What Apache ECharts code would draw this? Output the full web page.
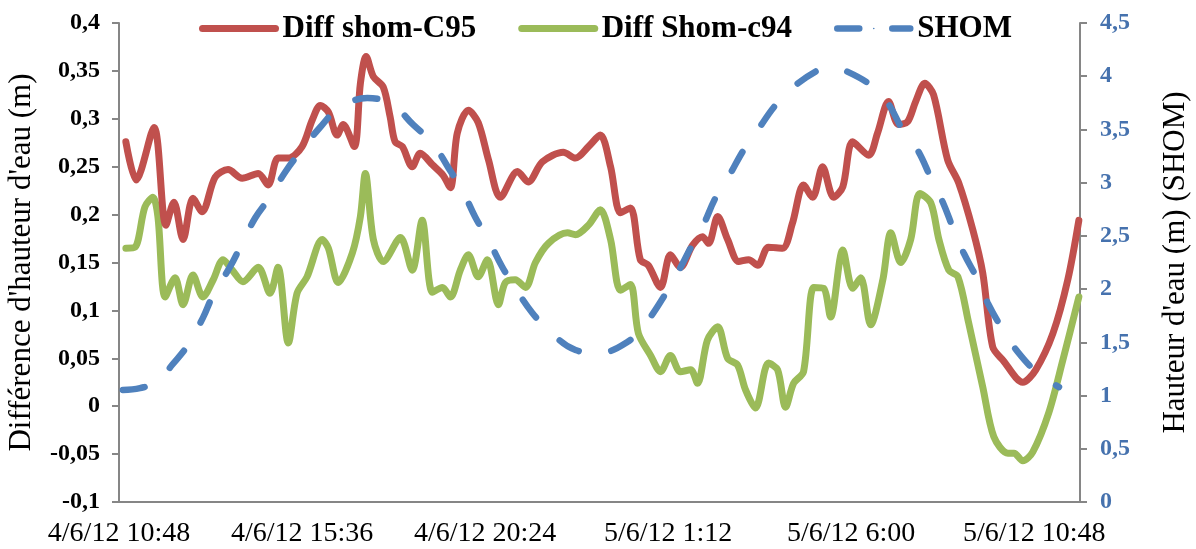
<!DOCTYPE html>
<html>
<head>
<meta charset="utf-8">
<script src="https://cdn.jsdelivr.net/npm/echarts@6/dist/echarts.min.js"></script>
<style>
  html, body { margin: 0; padding: 0; background: #fff; }
  #chart { width: 1196px; height: 549px; }
</style>
</head>
<body>
<div id="chart"></div>
<script>
// heures depuis 4/6/12 00:00
const redTime = [10.98, 11.25, 11.72, 12.03, 12.24, 12.48, 12.74, 12.98, 13.32, 13.66, 14.03, 14.45, 14.71, 14.97, 15.24, 15.60, 15.87, 16.08, 16.29, 16.52, 16.68, 16.97, 17.13, 17.28, 17.47, 17.73, 17.91, 18.04, 18.23, 18.49, 18.70, 19.02, 19.30, 19.49, 19.67, 19.96, 20.22, 20.49, 20.80, 21.25, 21.53, 21.90, 22.45, 22.77, 23.11, 23.42, 23.69, 23.95, 24.21, 24.47, 24.68, 25.00, 25.26, 25.52, 25.84, 26.10, 26.26, 26.50, 26.76, 27.05, 27.31, 27.55, 27.83, 28.20, 28.46, 28.75, 28.99, 29.25, 29.54, 29.78, 30.04, 30.46, 30.69, 30.98, 31.24, 31.48, 31.69, 31.93, 32.16, 32.53, 32.82, 33.19, 33.45, 33.71, 33.98, 34.50, 34.84, 35.29, 35.68, 35.97];
const diffC95 = [0.276, 0.236, 0.291, 0.189, 0.213, 0.174, 0.217, 0.203, 0.239, 0.247, 0.238, 0.243, 0.231, 0.259, 0.259, 0.271, 0.299, 0.314, 0.307, 0.283, 0.294, 0.271, 0.337, 0.365, 0.344, 0.333, 0.302, 0.276, 0.271, 0.250, 0.264, 0.252, 0.241, 0.228, 0.285, 0.309, 0.296, 0.257, 0.218, 0.245, 0.234, 0.255, 0.265, 0.259, 0.271, 0.283, 0.250, 0.202, 0.207, 0.153, 0.147, 0.124, 0.158, 0.145, 0.168, 0.177, 0.170, 0.198, 0.174, 0.151, 0.153, 0.147, 0.166, 0.165, 0.191, 0.231, 0.218, 0.250, 0.218, 0.229, 0.276, 0.262, 0.285, 0.318, 0.294, 0.297, 0.318, 0.337, 0.325, 0.257, 0.233, 0.184, 0.139, 0.062, 0.048, 0.025, 0.038, 0.076, 0.132, 0.194];

const greenTime = [10.98, 11.22, 11.48, 11.69, 11.82, 12.01, 12.27, 12.48, 12.74, 13.00, 13.27, 13.53, 13.77, 14.05, 14.45, 14.76, 14.97, 15.24, 15.47, 15.73, 16.13, 16.29, 16.55, 16.92, 17.13, 17.26, 17.47, 17.73, 18.18, 18.49, 18.75, 19.02, 19.28, 19.49, 19.75, 19.96, 20.22, 20.46, 20.75, 20.93, 21.19, 21.46, 21.72, 22.06, 22.56, 22.77, 23.11, 23.42, 23.69, 23.95, 24.21, 24.42, 24.74, 25.00, 25.26, 25.52, 25.79, 25.97, 26.23, 26.50, 26.76, 27.02, 27.23, 27.49, 27.83, 28.07, 28.28, 28.49, 28.75, 29.02, 29.28, 29.46, 29.78, 30.04, 30.25, 30.51, 30.83, 31.04, 31.30, 31.56, 31.80, 32.09, 32.30, 32.56, 32.80, 33.08, 33.45, 33.74, 34.11, 34.27, 34.50, 34.76, 35.18, 35.55, 35.97];
const diffC94 = [0.165, 0.166, 0.208, 0.218, 0.198, 0.114, 0.134, 0.106, 0.137, 0.114, 0.132, 0.153, 0.142, 0.130, 0.145, 0.118, 0.145, 0.066, 0.118, 0.135, 0.174, 0.165, 0.129, 0.160, 0.198, 0.243, 0.174, 0.151, 0.176, 0.142, 0.194, 0.119, 0.124, 0.114, 0.142, 0.158, 0.135, 0.153, 0.106, 0.129, 0.132, 0.124, 0.150, 0.170, 0.181, 0.179, 0.189, 0.205, 0.174, 0.121, 0.127, 0.076, 0.053, 0.036, 0.053, 0.036, 0.038, 0.024, 0.069, 0.083, 0.050, 0.043, 0.017, -0.002, 0.045, 0.038, -0.001, 0.024, 0.036, 0.124, 0.123, 0.093, 0.163, 0.123, 0.134, 0.085, 0.132, 0.181, 0.150, 0.174, 0.222, 0.212, 0.174, 0.142, 0.135, 0.087, 0.020, -0.032, -0.049, -0.049, -0.057, -0.048, -0.007, 0.048, 0.114];

const shomTime = [10.90, 11.35, 11.82, 12.19, 12.61, 13.00, 13.27, 13.71, 13.98, 14.37, 14.76, 15.16, 15.55, 16.08, 16.52, 17.31, 17.97, 18.52, 19.02, 19.44, 19.80, 20.14, 20.49, 20.85, 21.19, 21.64, 22.11, 22.77, 23.37, 24.13, 24.61, 25.08, 25.39, 25.79, 26.10, 26.44, 26.78, 27.18, 27.55, 28.02, 28.49, 29.15, 29.51, 29.80, 30.51, 30.96, 31.35, 31.74, 32.09, 32.40, 32.69, 32.95, 33.32, 33.58, 33.98, 34.37, 34.89, 35.45];
const shom = [1.052, 1.07, 1.13, 1.287, 1.475, 1.73, 1.945, 2.208, 2.396, 2.668, 2.865, 3.10, 3.288, 3.523, 3.683, 3.796, 3.73, 3.542, 3.373, 3.138, 2.93, 2.678, 2.46, 2.208, 2.01, 1.776, 1.597, 1.428, 1.40, 1.503, 1.68, 1.926, 2.114, 2.386, 2.584, 2.856, 3.053, 3.307, 3.495, 3.73, 3.90, 4.06, 4.087, 4.06, 3.918, 3.749, 3.495, 3.307, 3.044, 2.818, 2.555, 2.339, 2.086, 1.87, 1.616, 1.409, 1.212, 1.08];

const startHour = 10.8; // 4/6/12 10:48
const leftTicks = { min: -0.1, max: 0.4, step: 0.05 };
const rightTicks = { min: 0, max: 4.5, step: 0.5 };
const xTicks = { min: 0, max: 25.2, step: 4.8 };

const serif = "'Liberation Serif', 'Times New Roman', serif";

function pairs(times, vals) {
  return times.map((t, i) => [t - startHour, vals[i]]);
}
function comma(v) {
  return String(+v.toFixed(2)).replace('.', ',');
}
function dateLabel(h) {
  const m = Math.round((startHour + h) * 60);
  const day = 4 + Math.floor(m / 1440);
  const mm = m % 1440;
  const hh = Math.floor(mm / 60);
  const mi = mm % 60;
  return day + '/6/12 ' + hh + ':' + (mi < 10 ? '0' : '') + mi;
}

const greyLine = { color: '#868686', width: 2 };

let chart = echarts.init(document.getElementById('chart'));
chart.setOption({
  animation: false,
  grid: { left: 119, right: 116, top: 23, bottom: 47, outerBoundsMode: 'none' },
  legend: {
    left: 194,
    top: 8,
    itemWidth: 73,
    itemHeight: 2,
    itemGap: 42,
    textStyle: { fontFamily: serif, fontSize: 31, fontWeight: 'bold', color: '#000', padding: [0, 0, 0, 2] },
    lineStyle: { width: 'inherit', type: 'inherit', cap: 'inherit' },
    data: ['Diff shom-C95', 'Diff Shom-c94', 'SHOM']
  },
  xAxis: {
    type: 'value',
    min: xTicks.min,
    max: xTicks.max,
    interval: xTicks.step,
    splitLine: { show: false },
    axisLine: { onZero: false, lineStyle: greyLine },
    axisTick: { show: false },
    axisLabel: {
      fontFamily: serif, fontSize: 28, color: '#000', margin: 18,
      showMaxLabel: false,
      formatter: dateLabel
    }
  },
  yAxis: [
    {
      type: 'value',
      min: leftTicks.min,
      max: leftTicks.max,
      interval: leftTicks.step,
      name: "Différence d'hauteur d'eau (m)",
      nameLocation: 'middle',
      nameGap: 82,
      nameTextStyle: { fontFamily: serif, fontSize: 31, color: '#000' },
      splitLine: { show: false },
      axisLine: { show: true, lineStyle: greyLine },
      axisTick: { show: true, length: 7, lineStyle: greyLine },
      axisLabel: {
        fontFamily: serif, fontSize: 24, fontWeight: 'bold', color: '#000', margin: 19,
        formatter: comma
      }
    },
    {
      type: 'value',
      position: 'right',
      min: rightTicks.min,
      max: rightTicks.max,
      interval: rightTicks.step,
      name: "Hauteur d'eau (m) (SHOM)",
      nameLocation: 'middle',
      nameGap: 80,
      nameTextStyle: { fontFamily: serif, fontSize: 31, color: '#000' },
      splitLine: { show: false },
      axisLine: { show: true, lineStyle: greyLine },
      axisTick: { show: true, length: 7, lineStyle: greyLine },
      axisLabel: {
        fontFamily: serif, fontSize: 24, fontWeight: 'bold', color: '#4672AE', margin: 20,
        formatter: comma
      }
    }
  ],
  series: [
    {
      name: 'Diff shom-C95',
      type: 'line',
      yAxisIndex: 0,
      data: pairs(redTime, diffC95),
      smooth: 0.3,
      symbol: 'none',
      itemStyle: { color: '#C0504D' },
      lineStyle: { color: '#C0504D', width: 7, cap: 'round', join: 'round' },
      z: 3
    },
    {
      name: 'Diff Shom-c94',
      type: 'line',
      yAxisIndex: 0,
      data: pairs(greenTime, diffC94),
      smooth: 0.3,
      symbol: 'none',
      itemStyle: { color: '#9BBB59' },
      lineStyle: { color: '#9BBB59', width: 7, cap: 'round', join: 'round' },
      z: 2
    },
    {
      name: 'SHOM',
      type: 'line',
      yAxisIndex: 1,
      data: pairs(shomTime, shom),
      smooth: 0.4,
      symbol: 'none',
      itemStyle: { color: '#4F81BD' },
      lineStyle: { color: '#4F81BD', width: 6.5, type: [22, 33], cap: 'round' },
      z: 4
    }
  ]
});
</script>
</body>
</html>
